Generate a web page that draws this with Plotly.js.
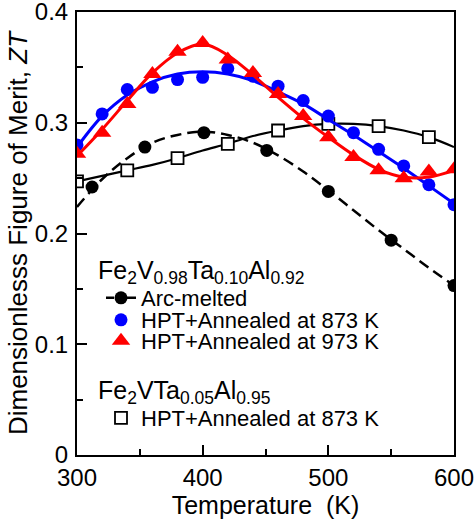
<!DOCTYPE html>
<html>
<head>
<meta charset="utf-8">
<script src="https://cdn.plot.ly/plotly-3.0.1.min.js"></script>
<style>html,body{margin:0;padding:0;background:#fff;}#chart{width:474px;height:520px;}</style>
</head>
<body>
<div id="chart"></div>
<script>
// ---- data ----
const fitT = [300,320,340,360,380,400,420,440,460,480,500,520,540,560,580,600];

const arcT   = [312,354,401,451,500,550,600];
const arcZT  = [0.242,0.278,0.291,0.275,0.238,0.194,0.153];
const arcFit = [0.224,0.249,0.268,0.282,0.289,0.292,0.289,0.282,0.2705,0.256,0.239,0.221,0.203,0.186,0.169,0.153];

const hpt873T  = [300,320,340,360,380,400,420,440,460,480,500,520,540,560,580,600];
const hpt873ZT = [0.280,0.308,0.330,0.332,0.339,0.341,0.349,0.342,0.333,0.320,0.306,0.291,0.276,0.261,0.244,0.226];
const hpt873Fit = [0.278,0.306,0.325,0.337,0.344,0.346,0.344,0.338,0.328,0.317,0.303,0.289,0.274,0.259,0.243,0.227];

const hpt973T  = [300,320,340,360,380,400,420,440,460,480,500,520,540,560,580,600];
const hpt973ZT = [0.272,0.291,0.317,0.344,0.364,0.372,0.357,0.345,0.326,0.306,0.287,0.269,0.257,0.250,0.256,0.258];
const hpt973Fit = [0.270,0.294,0.320,0.345,0.363,0.371,0.361,0.343,0.323,0.304,0.287,0.271,0.258,0.251,0.251,0.257];

const ta05T  = [300,340,380,420,460,500,540,580];
const ta05ZT = [0.247,0.257,0.268,0.281,0.293,0.299,0.297,0.287];
const ta05Fit = [0.247,0.252,0.257,0.262,0.268,0.275,0.281,0.288,0.293,0.297,0.299,0.299,0.297,0.293,0.287,0.278];

const xTicks = [300,400,500,600];
const yTicks = [0,0.1,0.2,0.3,0.4];
const yTickText = ['0','0.1','0.2','0.3','0.4'];

const header1 = 'Fe<sub>2</sub>V<sub>0.98</sub>Ta<sub>0.10</sub>Al<sub>0.92</sub>';
const header2 = 'Fe<sub>2</sub>VTa<sub>0.05</sub>Al<sub>0.95</sub>';
const names = ['Arc-melted','HPT+Annealed at 873 K','HPT+Annealed at 973 K','HPT+Annealed at 873 K'];

// ---- styling ----
const FONT = 'Liberation Sans, Arial, sans-serif';
const BLUE = '#0000ff', RED = '#ff0000', BLACK = '#000000';

// isolate points so a lines+markers trace shows "-●-" in legend but no connecting line
const sep = a => a.flatMap(v => [v, null]);

const traces = [
  {x: fitT, y: arcFit, mode: 'lines', line: {color: BLACK, width: 2.5, dash: '11px,6px', shape: 'spline'}, showlegend: false, hoverinfo: 'skip'},
  {x: sep(arcT), y: sep(arcZT), mode: 'lines+markers', connectgaps: false, name: names[0], legend: 'legend',
   line: {color: BLACK, width: 2.5, dash: '8px,5px,17px,0px'}, marker: {symbol: 'circle', size: 13, color: BLACK}},
  {x: fitT, y: ta05Fit, mode: 'lines', line: {color: BLACK, width: 2.2, shape: 'spline'}, showlegend: false, hoverinfo: 'skip'},
  {x: ta05T, y: ta05ZT, mode: 'markers', name: names[3], legend: 'legend4',
   marker: {symbol: 'square', size: 12, color: '#ffffff', line: {color: BLACK, width: 1.8}}},
  {x: fitT, y: hpt873Fit, mode: 'lines', line: {color: BLUE, width: 3, shape: 'spline'}, showlegend: false, hoverinfo: 'skip'},
  {x: hpt873T, y: hpt873ZT, mode: 'markers', name: names[1], legend: 'legend2',
   marker: {symbol: 'circle', size: 13, color: BLUE}},
  {x: fitT, y: hpt973Fit, mode: 'lines', line: {color: RED, width: 3, shape: 'spline'}, showlegend: false, hoverinfo: 'skip'},
  {x: hpt973T, y: hpt973ZT, mode: 'markers', name: names[2], legend: 'legend3',
   marker: {symbol: 'triangle-up', size: 16, color: RED}}
];

// plot area in pixels: x 77..454, y 12..455
const px = v => (v - 77) / 377;
const py = v => (455 - v) / 443;
const legBase = {xanchor: 'left', yanchor: 'middle', bgcolor: 'rgba(0,0,0,0)', borderwidth: 0,
  font: {family: FONT, size: 22, color: BLACK}, itemwidth: 30, tracegroupgap: 0};
const LX = 101;

const layout = {
  width: 474, height: 520,
  margin: {l: 77, r: 20, t: 12, b: 65},
  paper_bgcolor: '#ffffff', plot_bgcolor: '#ffffff',
  font: {family: FONT, color: BLACK},
  xaxis: {
    range: [300, 600], tickvals: xTicks, ticktext: xTicks.map(String), ticklabeloverflow: 'allow',
    ticks: 'inside', ticklen: 10, tickwidth: 2, tickcolor: BLACK,
    minor: {dtick: 50, tick0: 300, ticks: 'inside', ticklen: 6, tickwidth: 2, tickcolor: BLACK},
    showline: true, linewidth: 2, linecolor: BLACK, mirror: true, showgrid: false, zeroline: false,
    tickfont: {family: FONT, size: 24, color: BLACK},
    title: {text: 'Temperature  (K)', font: {family: FONT, size: 25, color: BLACK}, standoff: 4}
  },
  yaxis: {
    range: [0, 0.4], tickvals: yTicks, ticktext: yTickText, ticklabeloverflow: 'allow',
    ticks: 'inside', ticklen: 10, tickwidth: 2, tickcolor: BLACK,
    minor: {dtick: 0.05, tick0: 0, ticks: 'inside', ticklen: 6, tickwidth: 2, tickcolor: BLACK},
    showline: true, linewidth: 2, linecolor: BLACK, mirror: true, showgrid: false, zeroline: false,
    tickfont: {family: FONT, size: 24, color: BLACK}, ticklabelstandoff: 2,
    title: {text: 'Dimensionlesss Figure of Merit, <i>ZT</i>', font: {family: FONT, size: 26, color: BLACK}, standoff: 0}
  },
  legend:  Object.assign({}, legBase, {x: px(LX), y: py(298)}),
  legend2: Object.assign({}, legBase, {x: px(LX), y: py(320)}),
  legend3: Object.assign({}, legBase, {x: px(LX), y: py(341)}),
  legend4: Object.assign({}, legBase, {x: px(LX), y: py(418)}),
  annotations: [
    {xref: 'paper', yref: 'paper', x: px(96), y: py(272), xanchor: 'left', yanchor: 'middle', showarrow: false,
     text: header1, font: {family: FONT, size: 25, color: BLACK}},
    {xref: 'paper', yref: 'paper', x: px(96), y: py(392), xanchor: 'left', yanchor: 'middle', showarrow: false,
     text: header2, font: {family: FONT, size: 25, color: BLACK}}
  ],
  showlegend: true
};

Plotly.newPlot('chart', traces, layout, {displayModeBar: false, staticPlot: true});
</script>
</body>
</html>
